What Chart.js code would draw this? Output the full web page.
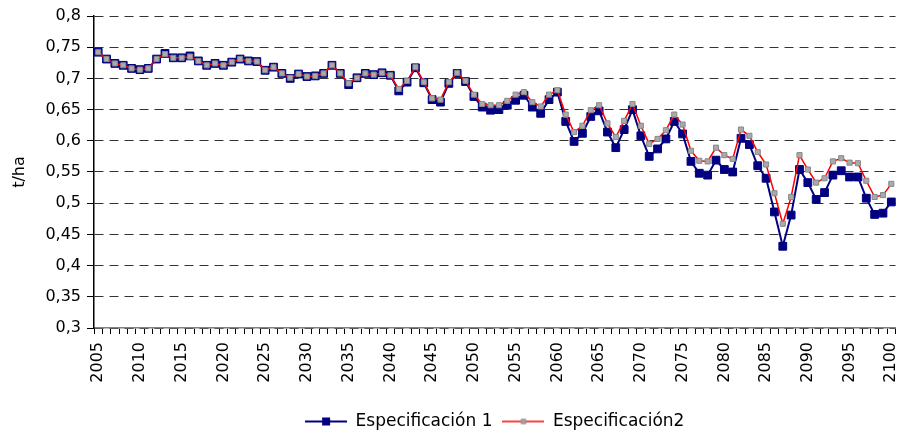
<!DOCTYPE html>
<html>
<head>
<meta charset="utf-8">
<script src="https://cdn.jsdelivr.net/npm/chart.js@4"></script>
<style>
  body { margin: 0; background: #fff; }
  canvas { display: block; }
</style>
</head>
<body>
<canvas id="chart_espec" width="902" height="436"></canvas>
<script>
// ani 2005 - 2100
const years = [];
for (let y = 2005; y <= 2100; y++) years.push(String(y));

const espec1 = [
  0.742, 0.731, 0.724, 0.721, 0.716, 0.714, 0.716, 0.731, 0.740, 0.733,
  0.733, 0.736, 0.728, 0.721, 0.724, 0.721, 0.726, 0.731, 0.728, 0.727,
  0.713, 0.718, 0.708, 0.700, 0.707, 0.703, 0.704, 0.708, 0.721, 0.708,
  0.690, 0.701, 0.708, 0.706, 0.709, 0.705, 0.680, 0.694, 0.717, 0.693,
  0.666, 0.662, 0.692, 0.708, 0.695, 0.671, 0.654, 0.649, 0.650, 0.657,
  0.665, 0.673, 0.654, 0.644, 0.666, 0.678, 0.631, 0.599, 0.612, 0.639,
  0.648, 0.614, 0.589, 0.618, 0.650, 0.608, 0.575, 0.587, 0.603, 0.631,
  0.611, 0.567, 0.548, 0.545, 0.569, 0.554, 0.550, 0.604, 0.594, 0.560,
  0.540, 0.486, 0.431, 0.481, 0.554, 0.533, 0.506, 0.517, 0.545, 0.552,
  0.542, 0.542, 0.508, 0.482, 0.484, 0.502
];

const espec2 = [
  0.742, 0.731, 0.724, 0.721, 0.716, 0.714, 0.716, 0.731, 0.739, 0.733,
  0.733, 0.735, 0.728, 0.721, 0.724, 0.721, 0.726, 0.731, 0.728, 0.727,
  0.713, 0.718, 0.708, 0.701, 0.707, 0.703, 0.704, 0.708, 0.721, 0.708,
  0.692, 0.701, 0.708, 0.706, 0.709, 0.705, 0.683, 0.696, 0.718, 0.694,
  0.668, 0.666, 0.694, 0.709, 0.696, 0.674, 0.659, 0.657, 0.657, 0.664,
  0.674, 0.678, 0.662, 0.655, 0.674, 0.681, 0.642, 0.614, 0.624, 0.649,
  0.657, 0.628, 0.606, 0.632, 0.659, 0.624, 0.595, 0.603, 0.617, 0.642,
  0.626, 0.584, 0.568, 0.567, 0.589, 0.577, 0.571, 0.618, 0.608, 0.582,
  0.562, 0.516, 0.467, 0.510, 0.577, 0.554, 0.533, 0.540, 0.567, 0.572,
  0.565, 0.564, 0.536, 0.510, 0.513, 0.531
];

const seriesNames = ['Especificación 1', 'Especificación2'];
const yMin = 0.3, yMax = 0.8, yStep = 0.05;

const FONT = 'DejaVu Sans';

// simbol de legenda: linie + marker (ca in Excel)
function legendIcon(lineColor, lineWidth, side, fill, stroke) {
    const c = document.createElement('canvas');
    c.width = 42; c.height = 12;
    const g = c.getContext('2d');
    g.strokeStyle = lineColor;
    g.lineWidth = lineWidth;
    g.beginPath();
    g.moveTo(0, 6); g.lineTo(42, 6);
    g.stroke();
    g.fillStyle = fill;
    g.fillRect(21 - side / 2, 6 - side / 2, side, side);
    g.strokeStyle = stroke;
    g.lineWidth = 1;
    g.strokeRect(21 - side / 2 + 0.5, 6 - side / 2 + 0.5, side - 1, side - 1);
    return c;
}

const icons = [
    legendIcon('#000080', 2, 8, '#000080', '#000080'),
    legendIcon('#ff0000', 1.5, 5, '#aaaaaa', '#888888')
];

const ctx = document.getElementById('chart_espec').getContext('2d');

const myChart = new Chart(ctx, {
    type: 'line',
    data: {
        labels: years,
        datasets: [{
            label: seriesNames[0],
            data: espec1,
            borderColor: '#000080',
            borderWidth: 2,
            pointStyle: 'rect',
            pointRadius: 5.5,
            pointBackgroundColor: '#000080',
            pointBorderColor: '#000080',
            pointBorderWidth: 1,
            fill: false,
            tension: 0,
            order: 1
        }, {
            label: seriesNames[1],
            data: espec2,
            borderColor: '#ff0000',
            borderWidth: 1.5,
            pointStyle: 'rect',
            pointRadius: 3.6,
            pointBackgroundColor: '#aaaaaa',
            pointBorderColor: '#888888',
            pointBorderWidth: 1,
            fill: false,
            tension: 0,
            order: 0
        }]
    },
    options: {
        responsive: false,
        animation: false,
        layout: {
            padding: { left: 0, right: 4, top: 16, bottom: -4 }
        },
        scales: {
            x: {
                offset: true,
                grid: {
                    offset: true,
                    drawOnChartArea: false,
                    tickLength: 6,
                    tickColor: '#000'
                },
                border: { color: '#808080', width: 1.5 },
                ticks: {
                    autoSkip: false,
                    maxRotation: 90,
                    minRotation: 90,
                    padding: 8,
                    color: '#000',
                    font: { family: FONT, size: 16 },
                    callback: function (val, i) {
                        return i % 5 === 0 ? this.getLabelForValue(val) : '';
                    }
                },
                afterFit: (scale) => {
                    scale.height = 75;
                    scale.paddingLeft = 0;
                    scale.paddingRight = 0;
                }
            },
            y: {
                min: yMin,
                max: yMax,
                grid: {
                    color: '#333',
                    tickColor: '#000',
                    tickLength: 7,
                    tickBorderDash: []
                },
                border: { color: '#000', width: 1.5, dash: [9, 6] },
                ticks: {
                    stepSize: yStep,
                    padding: 6,
                    color: '#000',
                    font: { family: FONT, size: 16 },
                    callback: (v) => v.toFixed(2).replace(/0$/, '').replace('.', ',')
                },
                title: {
                    display: true,
                    text: 't/ha',
                    color: '#000',
                    font: { family: FONT, size: 16 },
                    padding: { top: 10, bottom: 0 }
                },
                afterFit: (scale) => { scale.width = 94; }
            }
        },
        plugins: {
            legend: {
                position: 'bottom',
                fullSize: false,
                labels: {
                    usePointStyle: true,
                    pointStyleWidth: 42,
                    padding: 10,
                    color: '#000',
                    font: { family: FONT, size: 17 },
                    generateLabels: (chart) => seriesNames.map((name, i) => ({
                        text: name,
                        pointStyle: icons[i],
                        fillStyle: 'transparent',
                        strokeStyle: 'transparent',
                        lineWidth: 0,
                        datasetIndex: i,
                        hidden: false
                    }))
                }
            },
            tooltip: { enabled: false }
        }
    }
});
</script>
</body>
</html>
